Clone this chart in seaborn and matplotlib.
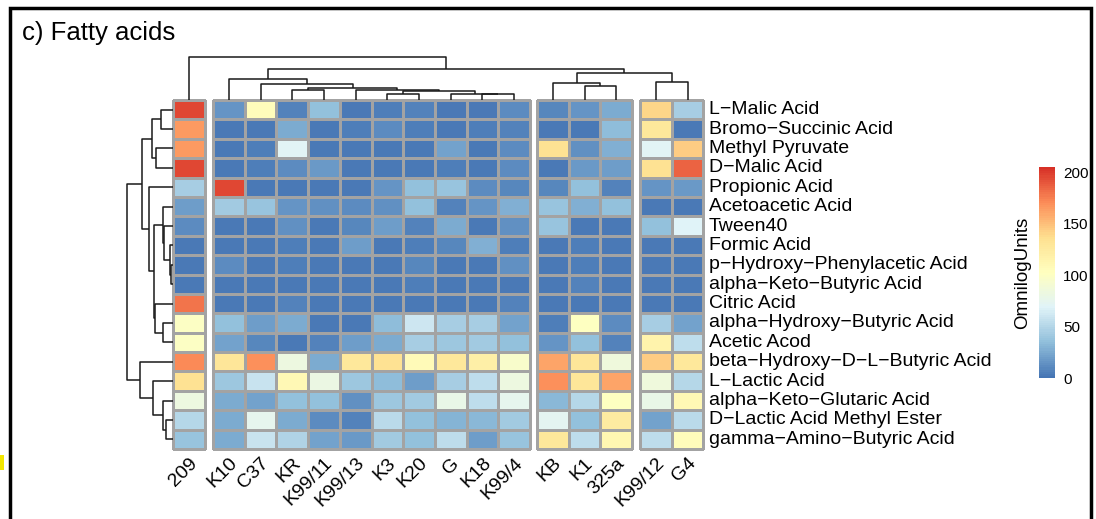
import numpy as np
import pandas as pd
import matplotlib
matplotlib.use("Agg")
import matplotlib.pyplot as plt
import seaborn as sns
from matplotlib.colors import LinearSegmentedColormap
from matplotlib.patches import Rectangle

# ---------------- data ----------------
row_labels = ["L\u2212Malic Acid", "Bromo\u2212Succinic Acid", "Methyl Pyruvate", "D\u2212Malic Acid",
              "Propionic Acid", "Acetoacetic Acid", "Tween40", "Formic Acid",
              "p\u2212Hydroxy\u2212Phenylacetic Acid", "alpha\u2212Keto\u2212Butyric Acid", "Citric Acid",
              "alpha\u2212Hydroxy\u2212Butyric Acid", "Acetic Acod", "beta\u2212Hydroxy\u2212D\u2212L\u2212Butyric Acid",
              "L\u2212Lactic Acid", "alpha\u2212Keto\u2212Glutaric Acid", "D\u2212Lactic Acid Methyl Ester",
              "gamma\u2212Amino\u2212Butyric Acid"]
col_labels = ["209", "K10", "C37", "KR", "K99/11", "K99/13", "K3", "K20", "G", "K18", "K99/4",
              "KB", "K1", "325a", "K99/12", "G4"]
col_group_sizes = [1, 10, 3, 2]

values = [
    [195, 15, 105, 8, 35, 3, 5, 8, 3, 3, 12, 10, 15, 25, 140, 45],
    [165, 3, 3, 25, 3, 5, 12, 5, 3, 5, 8, 3, 3, 33, 128, 3],
    [165, 3, 5, 70, 3, 3, 3, 3, 22, 3, 12, 135, 14, 28, 70, 145],
    [195, 3, 6, 12, 18, 3, 3, 3, 6, 3, 12, 3, 18, 20, 135, 185],
    [45, 195, 3, 3, 3, 3, 15, 35, 38, 12, 10, 10, 35, 8, 15, 18],
    [20, 42, 38, 15, 14, 12, 14, 35, 8, 15, 28, 38, 28, 35, 3, 3],
    [12, 3, 3, 14, 3, 10, 20, 8, 25, 3, 14, 38, 3, 3, 35, 68],
    [3, 3, 3, 5, 3, 20, 3, 6, 10, 28, 6, 3, 6, 3, 3, 3],
    [3, 12, 3, 5, 3, 3, 3, 10, 3, 4, 14, 3, 5, 3, 3, 3],
    [3, 3, 3, 3, 3, 3, 3, 6, 3, 3, 3, 3, 8, 3, 3, 3],
    [180, 3, 3, 7, 3, 3, 3, 3, 3, 3, 8, 3, 3, 3, 3, 3],
    [100, 35, 20, 25, 3, 3, 33, 60, 45, 45, 22, 5, 102, 12, 45, 22],
    [100, 22, 10, 3, 8, 20, 25, 45, 40, 42, 35, 15, 35, 8, 115, 55],
    [172, 130, 170, 82, 25, 128, 135, 108, 128, 120, 95, 160, 130, 85, 145, 128],
    [135, 40, 58, 110, 80, 40, 33, 20, 45, 55, 82, 170, 130, 160, 85, 50],
    [82, 25, 22, 35, 35, 14, 40, 42, 78, 55, 75, 32, 50, 102, 78, 110],
    [50, 25, 75, 25, 12, 8, 52, 35, 30, 32, 42, 72, 35, 125, 22, 52],
    [38, 25, 58, 48, 22, 18, 42, 35, 55, 20, 38, 128, 55, 112, 55, 105],
]

# dendrogram merges: (child a, child b, height); "#k" = k-th merge
col_merges = [
    ("K18", "K99/4", 5.7), ("G", "#0", 6.3), ("K3", "K20", 5.8), ("#2", "#1", 8.5),
    ("K99/13", "#3", 9.8), ("KR", "K99/11", 9.7), ("#5", "#4", 12), ("C37", "#6", 16),
    ("K10", "#7", 21), ("K1", "325a", 14), ("KB", "#9", 17), ("K99/12", "G4", 18),
    ("#10", "#11", 26), ("#8", "#12", 30.5), ("209", "#13", 42),
]
row_merges = [
    (0, 1, 12.5), (2, 3, 17), ("#0", "#1", 21), (8, 9, 2), (7, "#3", 3), (6, "#4", 9),
    (5, "#5", 10.5), (11, 12, 10), (10, "#7", 18), ("#6", "#8", 19.5), (4, "#9", 24),
    ("#2", "#10", 31), (16, 17, 7), (15, "#12", 10), (14, "#13", 20), (13, "#14", 33),
    ("#11", "#15", 46),
]

cbar_ticks = [0, 50, 100, 150, 200]
pal = ["#4575B4", "#91BFDB", "#E0F3F8", "#FFFFBF", "#FEE090", "#FC8D59", "#D73027"]

# ---------------- layout ----------------
W, H = 1096, 519
sns.set_theme(style="white")
plt.rcParams["font.family"] = ["Liberation Sans", "DejaVu Sans"]
fig = plt.figure(figsize=(W / 100, H / 100), dpi=100)
fig.patch.set_facecolor("white")


def px_axes(x0, y0, x1, y1):
    return fig.add_axes([x0 / W, 1 - y1 / H, (x1 - x0) / W, (y1 - y0) / H])


cmap = LinearSegmentedColormap.from_list("rdylbu", pal, N=100)
VMIN, VMAX = 0, 205
df = pd.DataFrame(values, index=row_labels, columns=col_labels)

top, bottom = 100, 449
cw = 31.7
group_x0 = [173, 213, 537, 640]

cax = px_axes(1039, 167, 1055, 378)

leaf_x = {}
start = 0
axes = []
for g, (n, x0) in enumerate(zip(col_group_sizes, group_x0)):
    cols = col_labels[start:start + n]
    ax = px_axes(x0, top, x0 + n * cw, bottom)
    last = g == len(col_group_sizes) - 1
    sns.heatmap(df[cols], ax=ax, cmap=cmap, vmin=VMIN, vmax=VMAX,
                linewidths=1.0, linecolor="#A3A3A3",
                cbar=(g == 0), cbar_ax=cax if g == 0 else None,
                cbar_kws={"ticks": cbar_ticks} if g == 0 else None,
                xticklabels=True, yticklabels=last)
    ax.collections[0].set_clip_on(False)
    ax.set_xlabel("")
    ax.set_ylabel("")
    ax.set_xticklabels(cols, rotation=45, ha="right", va="top",
                       rotation_mode="anchor", fontsize=14, color="black")
    ax.tick_params(axis="x", length=0, pad=4)
    if last:
        ax.yaxis.tick_right()
        ax.set_yticklabels(row_labels, rotation=0, ha="left", va="center",
                           fontsize=14, color="black")
        ax.tick_params(axis="y", length=0, pad=4)
    for i, c in enumerate(cols):
        leaf_x[c] = x0 + (i + 0.5) * cw
    start += n
    axes.append(ax)

# colorbar styling
cbar = axes[0].collections[0].colorbar
cbar.outline.set_visible(False)
cax.tick_params(axis="y", length=0, labelsize=11, pad=6, colors="black")
cax.set_ylabel("OmnilogUnits", fontsize=13.5, labelpad=6, color="black")
cax.yaxis.set_label_position("left")


def dendro(merges, leaf_pos):
    pos = dict(leaf_pos)
    hts = {k: 0.0 for k in leaf_pos}
    segs = []
    for i, (a, b, h) in enumerate(merges):
        pa, pb = pos[a], pos[b]
        ha, hb = hts[a], hts[b]
        segs.append(([pa, pa, pb, pb], [ha, h, h, hb]))
        pos["#%d" % i] = (pa + pb) / 2
        hts["#%d" % i] = h
    return segs


# column dendrogram
dax = px_axes(0, 57, W, top)
dax.set_xlim(0, W)
dax.set_ylim(0, 42)
dax.axis("off")
for xs, ys in dendro(col_merges, leaf_x):
    dax.plot(xs, ys, color="#1a1a1a", lw=1.1, clip_on=False, solid_capstyle="butt")

# row dendrogram
rax = px_axes(127, top, 173, bottom)
rax.set_xlim(46, 0)
rax.set_ylim(len(row_labels), 0)
rax.axis("off")
row_pos = {i: i + 0.5 for i in range(len(row_labels))}
for ys, xs in dendro(row_merges, row_pos):
    rax.plot(xs, ys, color="#1a1a1a", lw=1.1, clip_on=False, solid_capstyle="butt")

# title and frame
fig.text(22 / W, 1 - 33 / H, "c) Fatty acids", fontsize=18.5, ha="left", va="center", color="black")
fig.add_artist(Rectangle((10 / W, -0.05), 1081 / W, 1 - 8 / H + 0.05, transform=fig.transFigure,
                         fill=False, ec="black", lw=2.5))
fig.add_artist(Rectangle((0, 1 - 470 / H), 4 / W, 15 / H, transform=fig.transFigure,
                         fc="#F2E600", ec="none"))

fig.savefig("out.png", dpi=100)
